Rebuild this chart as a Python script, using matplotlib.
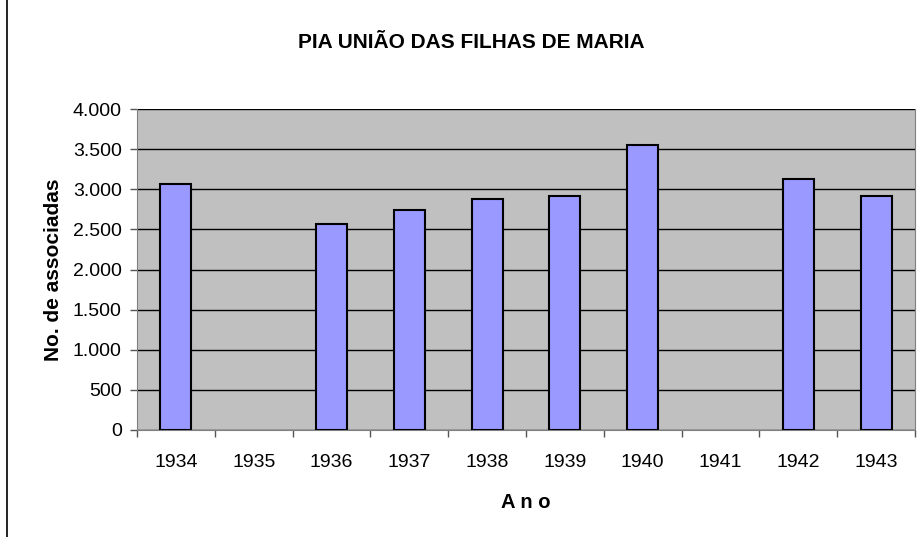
import matplotlib.pyplot as plt
import numpy as np
from matplotlib.ticker import FuncFormatter

plt.rcParams['font.family'] = ['Liberation Sans', 'DejaVu Sans']

anos = ['1934', '1935', '1936', '1937', '1938', '1939', '1940', '1941', '1942', '1943']
associadas = [3060, None, 2570, 2740, 2875, 2920, 3550, None, 3130, 2920]

fig = plt.figure(figsize=(9.21, 5.37), dpi=100)
ax = fig.add_axes([137/921, 1 - 430/537, 778/921, 321/537])
ax.set_facecolor('#C0C0C0')

x = np.arange(len(anos))
vals = np.array([np.nan if v is None else v for v in associadas], dtype=float)
ok = ~np.isnan(vals)
ax.bar(x[ok], vals[ok], width=0.4, color='#9999FF', edgecolor='black', linewidth=1.5, zorder=3)

ax.set_xlim(-0.5, len(anos) - 0.5)
ax.set_ylim(0, 4000)
ax.set_yticks(np.arange(0, 4001, 500))
ax.yaxis.set_major_formatter(FuncFormatter(lambda v, p: f'{int(v):,}'.replace(',', '.')))
ax.grid(axis='y', color='black', linewidth=1, zorder=1)

ax.set_xticks(x)
ax.set_xticklabels(anos)
ax.set_xticks(np.arange(len(anos) + 1) - 0.5, minor=True)
ax.tick_params(axis='x', which='major', length=0, pad=17, labelsize=14)
ax.tick_params(axis='x', which='minor', length=5, width=1, color='#555555', direction='out')
ax.tick_params(axis='y', length=5, width=1, color='#555555', pad=6, labelsize=14)

ax.spines['top'].set_visible(False)
ax.spines['right'].set_color('#808080')
ax.spines['left'].set_color('#808080')
ax.spines['bottom'].set_color('#808080')

ax.set_ylabel('No. de associadas', fontsize=15, fontweight='bold', labelpad=7)
ax.set_xlabel('A n o', fontsize=14.5, fontweight='bold', labelpad=16)
fig.text(471/921, 1 - 42/537, 'PIA UNIÃO DAS FILHAS DE MARIA', ha='center', va='center',
         fontsize=15, fontweight='bold')

# chart area border (only left edge visible in the crop)
fig.add_artist(plt.Line2D([7/921, 7/921], [0, 1], color='black', linewidth=1.2, transform=fig.transFigure))

fig.savefig('out.png', dpi=100)
